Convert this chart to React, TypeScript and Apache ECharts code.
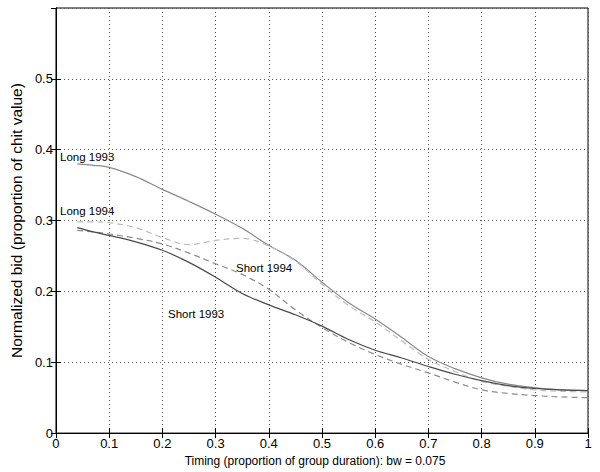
import React, { useEffect, useRef } from "react";
import * as echarts from "echarts";

const timing = [0.04, 0.07, 0.1, 0.15, 0.2, 0.25, 0.3, 0.35, 0.4, 0.45, 0.5, 0.55, 0.6, 0.65, 0.7, 0.75, 0.8, 0.85, 0.9, 0.95, 1.0];
const long1993 = [0.380, 0.378, 0.375, 0.362, 0.344, 0.327, 0.309, 0.289, 0.265, 0.244, 0.213, 0.184, 0.161, 0.135, 0.108, 0.091, 0.078, 0.069, 0.064, 0.061, 0.060];
const long1994 = [0.298, 0.298, 0.297, 0.290, 0.276, 0.266, 0.272, 0.275, 0.264, 0.243, 0.210, 0.180, 0.157, 0.130, 0.104, 0.087, 0.073, 0.066, 0.061, 0.059, 0.058];
const short1993 = [0.290, 0.284, 0.279, 0.270, 0.258, 0.241, 0.220, 0.197, 0.181, 0.167, 0.151, 0.132, 0.117, 0.106, 0.094, 0.083, 0.074, 0.067, 0.063, 0.061, 0.060];
const short1994 = [0.286, 0.284, 0.281, 0.275, 0.267, 0.254, 0.239, 0.224, 0.203, 0.174, 0.149, 0.128, 0.111, 0.097, 0.085, 0.072, 0.061, 0.056, 0.053, 0.051, 0.050];

const xTitle = "Timing (proportion of group duration): bw = 0.075";
const yTitle = "Normalized bid (proportion of chit value)";

const FONT = "'Liberation Sans', Arial, Helvetica, sans-serif";

const pairs = (ys: number[]) => timing.map((x, i) => [x, ys[i]]);

export default function App() {
  const ref = useRef<HTMLDivElement>(null);
  useEffect(() => {
    if (!ref.current) return;
    const chart = echarts.init(ref.current, undefined, { renderer: "svg" });
    const fmt = (v: number) => String(Number(v.toFixed(1)));
    const gridLine = { show: true, lineStyle: { color: "#555", type: [1, 3] as any, width: 1 } };
    const mkLine = (name: string, ys: number[], color: string, dashed: boolean) => ({
      type: "line",
      name,
      data: pairs(ys),
      showSymbol: false,
      smooth: 0.35,
      lineStyle: { color, width: 1.2, type: dashed ? ([6, 4] as any) : "solid" },
      xAxisIndex: 0,
      yAxisIndex: 0,
    });
    const label = (text: string, x: number, y: number) => ({
      type: "text",
      x,
      y,
      style: { text, fill: "#000", font: `11.5px ${FONT}`, verticalAlign: "middle" },
    });
    chart.setOption({
      animation: false,
      backgroundColor: "#fff",
      textStyle: { fontFamily: FONT },
      grid: { left: 46, right: 12, top: 8, bottom: 37, show: true, borderColor: "#000", borderWidth: 1 },
      xAxis: [
        {
          type: "value",
          min: 0,
          max: 1,
          interval: 0.1,
          name: xTitle,
          nameLocation: "middle",
          nameGap: 19,
          nameTextStyle: { color: "#000", fontSize: 12, fontFamily: FONT, padding: [0, 14, 0, 0] },
          axisLine: { show: true, onZero: false, lineStyle: { color: "#000" } },
          axisTick: { show: true, inside: true, length: 5, lineStyle: { color: "#000" } },
          axisLabel: { color: "#000", fontSize: 13, margin: 4, formatter: fmt, fontFamily: FONT },
          splitLine: gridLine,
        },
        {
          type: "value",
          position: "top",
          min: 0,
          max: 1,
          interval: 0.1,
          axisLine: { show: true, lineStyle: { color: "#000" } },
          axisTick: { show: true, inside: true, length: 5, lineStyle: { color: "#000" } },
          axisLabel: { show: false },
          splitLine: { show: false },
        },
      ],
      yAxis: [
        {
          type: "value",
          min: 0,
          max: 0.6,
          interval: 0.1,
          name: yTitle,
          nameLocation: "middle",
          nameGap: 23,
          nameTextStyle: { color: "#000", fontSize: 15.5, fontFamily: FONT },
          axisLine: { show: true, onZero: false, lineStyle: { color: "#000" } },
          axisTick: { show: true, inside: true, length: 5, lineStyle: { color: "#000" } },
          axisLabel: { color: "#000", fontSize: 13, margin: 3, formatter: fmt, showMaxLabel: false, fontFamily: FONT },
          splitLine: gridLine,
        },
        {
          type: "value",
          position: "right",
          min: 0,
          max: 0.6,
          interval: 0.1,
          axisLine: { show: true, lineStyle: { color: "#000" } },
          axisTick: { show: true, inside: true, length: 5, lineStyle: { color: "#000" } },
          axisLabel: { show: false },
          splitLine: { show: false },
        },
      ],
      series: [
        mkLine("Long 1993", long1993, "#8a8a8a", false),
        mkLine("Long 1994", long1994, "#bcbcbc", true),
        mkLine("Short 1994", short1994, "#8c8c8c", true),
        mkLine("Short 1993", short1993, "#4a4a4a", false),
      ],
      graphic: [
        label("Long 1993", 60, 157),
        label("Long 1994", 60, 211),
        label("Short 1994", 236, 268),
        label("Short 1993", 168, 314),
      ],
    });
    return () => chart.dispose();
  }, []);
  return <div ref={ref} style={{ position: "fixed", left: 0, top: 0, width: 600, height: 472 }} />;
}
